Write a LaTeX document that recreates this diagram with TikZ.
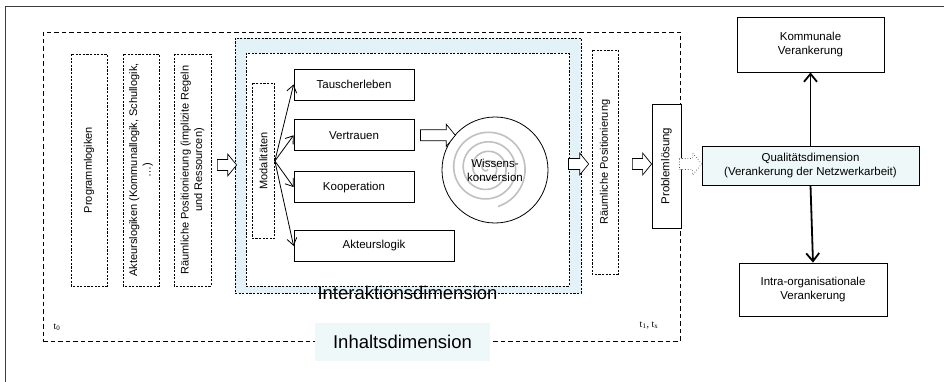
\documentclass[tikz,border=0pt]{standalone}
\usepackage{fontspec}
\setmainfont{Liberation Sans}
\newfontfamily\timefont{Liberation Serif}
\usetikzlibrary{calc,positioning,arrows.meta}
\definecolor{interblue}{RGB}{226,242,246}
\definecolor{qualblue}{RGB}{239,248,248}
\definecolor{framegray}{RGB}{60,60,60}
\definecolor{spiralgray}{RGB}{192,192,192}

% hollow block arrow from #2 to the x of #3
\newcommand{\blockarrow}[3][]{%
  \draw[hollow,#1] let \p1=#2, \p2=#3 in
    (\x1,\y1+5.5pt) -- (\x2-9pt,\y1+5.5pt) -- (\x2-9pt,\y1+11pt) -- (\x2,\y1)
    -- (\x2-9pt,\y1-11pt) -- (\x2-9pt,\y1-5.5pt) -- (\x1,\y1-5.5pt) -- cycle;}

\begin{document}
\begin{tikzpicture}[x=1pt,y=-1pt,
    every node/.style={font=\fontsize{11.5}{14}\selectfont, align=center, inner sep=1pt},
    solidbox/.style={draw=black, line width=0.8pt, fill=white},
    dashbox/.style={draw=black, line width=0.7pt, dash pattern=on 2.2pt off 1.4pt},
    sidebox/.style={dashbox, rotate=90, font=\fontsize{11}{13.5}\selectfont},
    modalarrow/.style={-{Straight Barb[length=7pt,width=10pt]}, line width=0.8pt},
    anchorarrow/.style={-{Straight Barb[length=8pt,width=13pt]}, line width=1.8pt},
    hollow/.style={draw=black, line width=0.7pt, fill=white},
    bigtext/.style={font=\fontsize{18.5}{22}\selectfont}]
  \useasboundingbox (0,0) rectangle (944,382);
  \clip (0,0) rectangle (944,382);
  \draw[framegray, line width=1pt] (5.5,7) rectangle (970,400);

  % Inhaltsdimension
  \node (inhalt) [draw, line width=0.9pt, dash pattern=on 4.5pt off 3pt, minimum width=637, minimum height=309] at (361.5,186.5) {};
  \node (inhaltlabel) [fill=qualblue, bigtext, minimum width=175, minimum height=38] at (402.5,342) {Inhaltsdimension};
  \node (tnull) [font=\timefont\fontsize{10}{12}\selectfont] at (57,327) {t\textsubscript{0}};
  \node (teins) [font=\timefont\fontsize{10}{12}\selectfont] at (649,325) {t\textsubscript{1}, t\textsubscript{x}};

  \node (prog) [sidebox, minimum width=232, minimum height=36] at (89,170) {Programmlogiken};
  \node (akteure) [sidebox, minimum width=232, minimum height=36] at (141,170) {Akteurslogiken (Kommunallogik, Schullogik,\\ \dots)};
  \node (raumeins) [sidebox, minimum width=232, minimum height=37] at (192.5,170) {Räumliche Positionierung (implizite Regeln\\ und Ressourcen)};

  % Interaktionsdimension
  \node (inter) [dashbox, fill=interblue, minimum width=346, minimum height=255] at (408,165.5) {};
  \node (innen) [dashbox, fill=white, minimum width=323, minimum height=233] at (407.5,169.5) {};
  \node (interlabel) [bigtext, anchor=base] at (407.5,299) {Interaktionsdimension};

  \node (modal) [sidebox, minimum width=155.5, minimum height=22] at (263.5,161) {Modalitäten};
  \node (tausch) [solidbox, minimum width=120, minimum height=31] at (354,84.5) {Tauscherleben};
  \node (vertrauen) [solidbox, minimum width=120, minimum height=31, below=19pt of tausch] {Vertrauen};
  \node (koop) [solidbox, minimum width=120, minimum height=31, below=20pt of vertrauen] {Kooperation};
  \node (akteurslogik) [solidbox, minimum width=160, minimum height=31, below right=27pt and 0pt of koop.south west] {Akteurslogik};

  % Wissenskonversion
  \draw[spiralgray, line width=1.6pt] plot[domain=60:1514, samples=240, smooth]
    ({487+40*(\x/1514)*cos(\x)}, {168+40*(\x/1514)*sin(\x)});
  \node (wissen) [draw, line width=0.8pt, circle, minimum size=106] at (495,170) {};
  \node at (wissen.center) {Wissens-\\konversion};

  \node (raumzwei) [sidebox, minimum width=224, minimum height=26] at (605,162) {Räumliche Positionierung};
  \node (problem) [solidbox, rotate=90, minimum width=124, minimum height=29] at (666.5,166) {Problemlösung};

  % Qualitaetsdimension
  \node (quali) [solidbox, fill=qualblue, minimum width=217, minimum height=39] at (810.5,165.5) {Qualitätsdimension\\(Verankerung der Netzwerkarbeit)};
  \node (kommunal) [solidbox, minimum width=147, minimum height=55] at (810.5,44.5) {Kommunale\\Verankerung};
  \node (intra) [solidbox, minimum width=148, minimum height=53] at (813,289.5) {Intra-organisationale\\Verankerung};

  \foreach \target in {tausch,vertrauen,koop,akteurslogik}
    \draw[modalarrow] (modal.south) -- (\target.west);

  \blockarrow{([yshift=5pt,xshift=6pt]raumeins.south)}{([xshift=2pt]inter.west)}
  \blockarrow{([xshift=6pt]vertrauen.east)}{(wissen.138)}
  \blockarrow{([shift={(20pt,6pt)}]wissen.east)}{([xshift=-3pt]raumzwei.north)}
  \blockarrow{([shift={(14pt,-2pt)}]raumzwei.south)}{(problem.north)}
  \blockarrow[dotted, draw=black!70]{([shift={(-2pt,2pt)}]problem.south)}{(quali.west)}

  \draw[anchorarrow] (quali.north) -- (kommunal.south);
  \draw[anchorarrow] (quali.south) -- (intra.north);
\end{tikzpicture}
\end{document}
